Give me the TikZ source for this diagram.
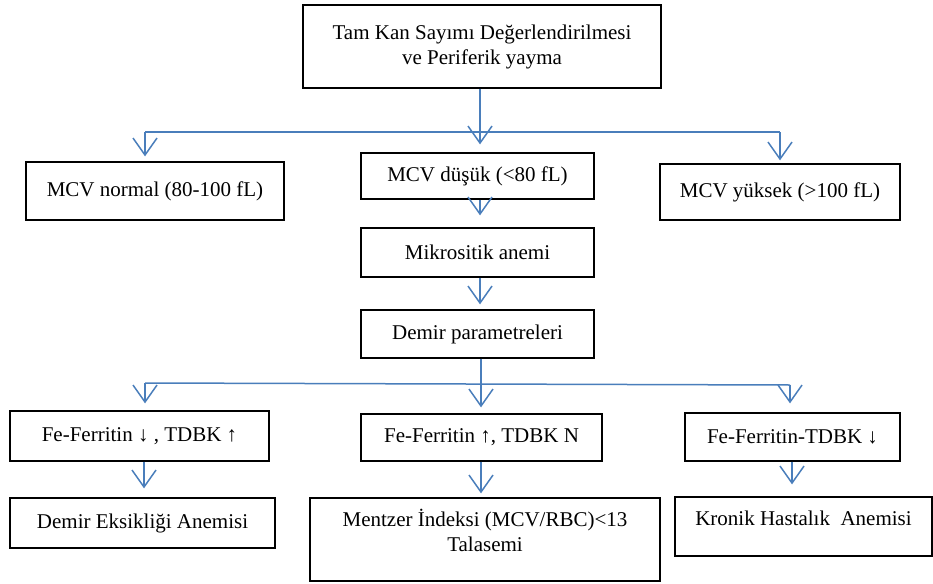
\documentclass[tikz,border=0pt]{standalone}
\usepackage{fontspec}
\setmainfont{Liberation Serif}
\usetikzlibrary{arrows.meta}
\definecolor{lblue}{RGB}{74,126,187}
\begin{document}
\begin{tikzpicture}[x=1pt,y=-1pt,
  box/.style={draw=black,line width=1.3pt,inner sep=2pt,align=center,font=\fontsize{21}{25}\selectfont},
  conn/.style={draw=lblue,line width=1.5pt},
  arr/.style={conn,-{Straight Barb[length=17pt,width=24pt,line width=1.5pt]}}]
\useasboundingbox (0,0) rectangle (933,583);
\node[box,minimum width=358pt,minimum height=83pt] (top) at (482,46.5) {Tam Kan Sayımı Değerlendirilmesi\\ve Periferik yayma};
\node[box,minimum width=258pt,minimum height=58pt] (mcvn) at (155,191) {MCV normal (80-100 fL)};
\node[box,minimum width=233pt,minimum height=46pt] (mcvd) at (477.5,176) {MCV düşük (<80 fL)};
\node[box,minimum width=240pt,minimum height=56pt] (mcvy) at (780,192) {MCV yüksek (>100 fL)};
\node[box,minimum width=233pt,minimum height=49pt] (mikro) at (477.5,252.5) {Mikrositik anemi};
\node[box,minimum width=233pt,minimum height=48pt] (demir) at (477.5,334) {Demir parametreleri};
\node[box,minimum width=259pt,minimum height=50pt] (fe1) at (139.5,436) {Fe-Ferritin ↓ , TDBK ↑};
\node[box,minimum width=241pt,minimum height=47pt] (fe2) at (481.5,437.5) {Fe-Ferritin ↑, TDBK N};
\node[box,minimum width=215pt,minimum height=48pt] (fe3) at (792.5,437) {Fe-Ferritin-TDBK ↓};
\node[box,minimum width=265pt,minimum height=50pt] (de) at (142.5,523) {Demir Eksikliği Anemisi};
\node[box,minimum width=350pt,minimum height=83pt,text depth=18pt] (me) at (485,539.5) {Mentzer İndeksi (MCV/RBC)<13\\Talasemi};
\node[box,minimum width=257pt,minimum height=59pt,text depth=16pt] (kr) at (803.5,526.5) {Kronik Hastalık\ \ Anemisi};
% first branching
\coordinate (h1l) at (145,132);
\coordinate (h1r) at (780,132);
\draw[conn] (h1l) -- (h1r);
\draw[arr,shorten >=8pt] (top.south -| 480,0) -- (mcvd.north -| 480,0);
\draw[arr,shorten >=5pt] (h1l) -- (h1l |- mcvn.north);
\draw[arr,shorten >=3pt] (h1r) -- (h1r |- mcvy.north);
\draw[arr,shorten >=12pt] (mcvd.south -| 480,0) -- (mikro.north -| 480,0);
\draw[arr,shorten >=5pt] (mikro.south -| 480,0) -- (demir.north -| 480,0);
% second branching
\coordinate (h2l) at (145,383);
\coordinate (h2r) at (790,385);
\draw[conn] (h2l) -- (h2r);
\draw[arr,shorten >=6pt] (demir.south -| 481,0) -- (fe2.north -| 481,0);
\draw[arr,shorten >=7pt] (h2l) -- (h2l |- fe1.north);
\draw[arr,shorten >=9pt] (h2r) -- (h2r |- fe3.north);
\draw[arr,shorten >=9pt] (fe1.south -| 144,0) -- (de.north -| 144,0);
\draw[arr,shorten >=4pt] (fe2.south -| 481,0) -- (me.north -| 481,0);
\draw[arr,shorten >=12pt] (fe3.south -| 792,0) -- (kr.north -| 792,0);
\end{tikzpicture}
\end{document}
